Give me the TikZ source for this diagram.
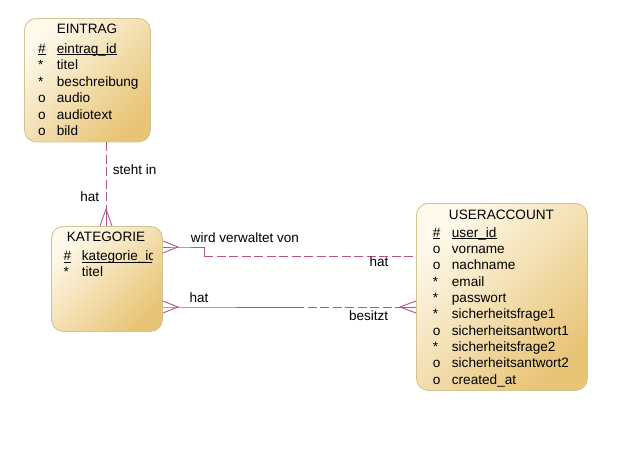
\documentclass[tikz,border=0pt]{standalone}
\usepackage{fontspec}
\setmainfont{Liberation Sans}
\usetikzlibrary{calc}
\definecolor{boxlight}{RGB}{254,249,234}
\definecolor{boxdark}{RGB}{232,196,118}
\definecolor{boxborder}{RGB}{212,196,146}
\definecolor{relcol}{RGB}{184,84,138}
\newcommand\ulx[1]{\setbox0\hbox{#1}\rlap{\rule[-1.9pt]{\wd0}{0.9pt}}\box0}
\begin{document}
\begin{tikzpicture}[x=1pt,y=-1pt,
  entity/.style={draw=boxborder, line width=0.9pt, rounded corners=12pt,
    top color=boxlight, bottom color=boxdark, shading angle=45,
    inner sep=0pt, anchor=north west},
  txt/.style={inner sep=0pt, anchor=base west, font=\fontsize{13.6}{16}\selectfont},
  ttl/.style={inner sep=0pt, anchor=base, font=\fontsize{13.6}{16}\selectfont},
  lbl/.style={inner sep=0pt, anchor=base west, font=\fontsize{13.5}{16}\selectfont},
  rel/.style={draw=relcol, line width=0.9pt},
  dsh/.style={rel, dash pattern=on 9pt off 3.5pt}
]
\useasboundingbox (0,0) rectangle (619,448);

% ---------- EINTRAG ----------
\node[entity, minimum width=126pt, minimum height=123.5pt] (eintrag) at (24,18) {};
\node[ttl] (eT) at (87,33.5) {EINTRAG};
\node[txt] (e1m) at (38,53) {\ulx{\#}};
\node[txt] (e1) at (56.7,53) {\ulx{eintrag\_id}};
\node[txt] (e2m) at (38,69.5) {*};
\node[txt] (e2) at (56.7,69.5) {titel};
\node[txt] (e3m) at (38,86) {*};
\node[txt] (e3) at (56.7,86) {beschreibung};
\node[txt] (e4m) at (38,102.5) {o};
\node[txt] (e4) at (56.7,102.5) {audio};
\node[txt] (e5m) at (38,119) {o};
\node[txt] (e5) at (56.7,119) {audiotext};
\node[txt] (e6m) at (38,135.5) {o};
\node[txt] (e6) at (56.7,135.5) {bild};

% ---------- KATEGORIE ----------
\node[entity, minimum width=111pt, minimum height=105pt] (kat) at (51,226) {};
\node[ttl] (kT) at (106,241.7) {KATEGORIE};
\node[txt] (k1m) at (63.3,260.7) {\ulx{\#}};
\begin{scope}
  \clip (51,226) rectangle (152,331);
  \node[txt] (k1) at (81.7,260.7) {\ulx{kategorie\_id}};
\end{scope}
\node[txt] (k2m) at (63.3,276.7) {*};
\node[txt] (k2) at (81.7,276.7) {titel};

% ---------- USERACCOUNT ----------
\node[entity, minimum width=171pt, minimum height=187pt] (user) at (416,203) {};
\node[ttl] (uT) at (501.5,219) {USERACCOUNT};
\foreach \m/\t [count=\i from 0] in
  {\ulx{\#}/\ulx{user\_id}, o/vorname, o/nachname, */email, */passwort,
   */sicherheitsfrage1, o/sicherheitsantwort1, */sicherheitsfrage2,
   o/sicherheitsantwort2, o/created\_at}{
  \node[txt] (um\i) at (432.7,237.3+16.3*\i) {\m};
  \node[txt] (u\i) at (451.7,237.3+16.3*\i) {\t};
}

% ---------- EINTRAG -- KATEGORIE ----------
\coordinate (cfA) at (106,209);
\draw[dsh] (eintrag.south -| cfA) -- (cfA);
\draw[rel] ($(kat.north -| cfA)+(-6,0)$) -- (cfA) -- ($(kat.north -| cfA)+(6,0)$);
\draw[rel] (cfA) -- (kat.north -| cfA);
\node[lbl] (lA1) at (112.7,174.3) {steht in};
\node[inner sep=0pt, anchor=base east, font=\fontsize{13.5}{16}\selectfont] (lA2) at (99.3,201.7) {hat};

% ---------- KATEGORIE -- USERACCOUNT (verwaltet) ----------
\coordinate (cfB) at (178,247);
\coordinate (bendB) at (204,256);
\draw[rel] ($(kat.east |- cfB)+(0,-6)$) -- (cfB) -- ($(kat.east |- cfB)+(0,6)$);
\draw[rel] (kat.east |- cfB) -- (cfB) -| (bendB);
\draw[dsh] (bendB) -- (user.west |- bendB);
\node[lbl] (lB1) at (190.7,242.7) {wird verwaltet von};
\node[lbl] (lB2) at (369.3,266.7) {hat};

% ---------- KATEGORIE -- USERACCOUNT (besitzt) ----------
\coordinate (cfC) at (178,307);
\coordinate (cfD) at (400,307);
\coordinate (midC) at (295,307);
\draw[rel] ($(kat.east |- cfC)+(0,-6)$) -- (cfC) -- ($(kat.east |- cfC)+(0,6)$);
\draw[rel] (kat.east |- cfC) -- (cfC) -- (midC);
\draw[dsh] (midC) -- (cfD);
\draw[rel] ($(user.west |- cfD)+(0,-6)$) -- (cfD) -- ($(user.west |- cfD)+(0,6)$);
\draw[rel] (cfD) -- (user.west |- cfD);
\node[lbl] (lC1) at (189.3,302.7) {hat};
\node[lbl] (lC2) at (349,320) {besitzt};
\end{tikzpicture}
\end{document}
